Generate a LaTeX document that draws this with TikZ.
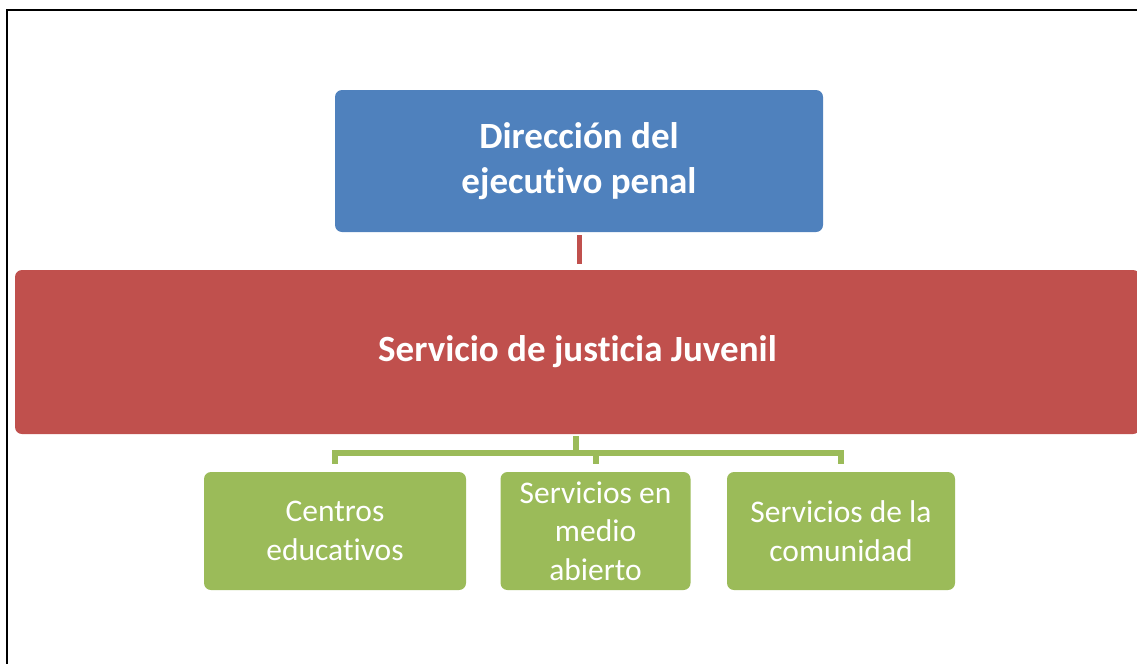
\documentclass[tikz,border=0pt]{standalone}
\usepackage{fontspec}
\setmainfont{Carlito}[Ligatures=NoCommon]
\definecolor{cblue}{HTML}{4F81BD}
\definecolor{cred}{HTML}{C0504D}
\definecolor{cgreen}{HTML}{9BBB59}
\begin{document}
\begin{tikzpicture}[x=1pt,y=-1pt,
  box/.style={rectangle, rounded corners=7pt, inner sep=0pt, align=center, text=white},
  bigbox/.style={box, font=\fontsize{37}{45}\selectfont\bfseries},
  leafbox/.style={box, fill=cgreen, minimum height=118pt, font=\fontsize{31.5}{38.5}\selectfont},
  rline/.style={draw=cred, line width=5pt},
  gline/.style={draw=cgreen, line width=6pt}]
\useasboundingbox (0,0) rectangle (1137,664);
\draw[line width=2.2pt] (1137,10) -- (7,10) -- (7,664);
\node[bigbox, fill=cblue, minimum width=488pt, minimum height=142pt] (dir) at (579,161) {Dirección del\\ejecutivo penal};
\node[bigbox, fill=cred, minimum width=1125pt, minimum height=164pt] (sjj) at (577.5,352) {Servicio de justicia Juvenil};
\node[leafbox, minimum width=262pt] (c1) at (335,531) {Centros\\educativos};
\node[leafbox, minimum width=190pt] (c2) at (595.5,531) {Servicios en\\medio\\abierto};
\node[leafbox, minimum width=228pt] (c3) at (841,531) {Servicios de la\\comunidad};
\draw[rline, shorten <=3pt, shorten >=6pt] (dir.south) -- (dir.south |- sjj.north);
\foreach \c in {c1,c2,c3}{
  \draw[gline, shorten <=2pt, shorten >=8pt] ([xshift=-1.5pt]sjj.south) -- ++(0,19) -| (\c.north);
}
\end{tikzpicture}
\end{document}
